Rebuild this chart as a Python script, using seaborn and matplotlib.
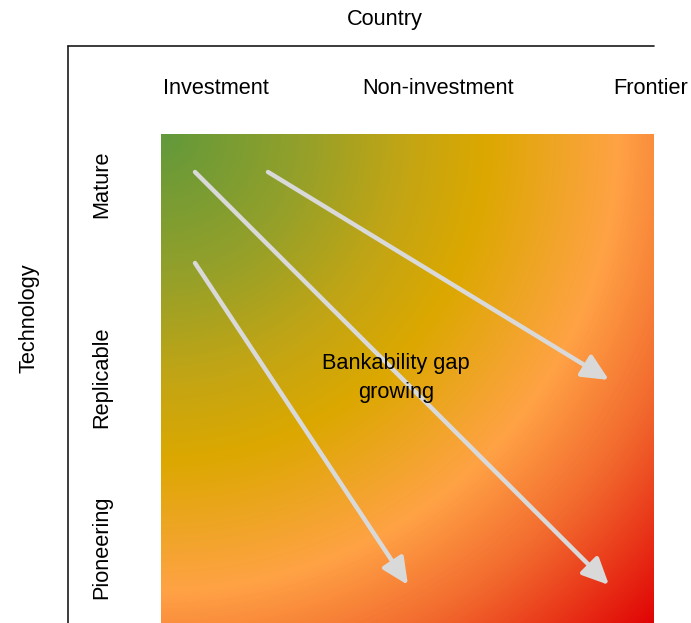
import numpy as np
import matplotlib
matplotlib.use("Agg")
import matplotlib.pyplot as plt
from matplotlib.patches import FancyArrowPatch
from matplotlib.colors import LinearSegmentedColormap
import seaborn as sns

sns.set_theme(style="white")
plt.rcParams['font.family'] = ['Liberation Sans', 'DejaVu Sans']

# ---- data ----
x_title = "Country"
y_title = "Technology"
columns = ["Investment", "Non-investment", "Frontier"]
col_x = [216, 438.5, 650.5]
rows = ["Mature", "Replicable", "Pioneering"]
row_y = [184, 377, 547]
center_label = "Bankability gap\ngrowing"

# arrows (start x, start y) -> (end x, end y), in the diagram's pixel grid
arrow_x0 = [268, 195, 195]
arrow_y0 = [172, 172, 263]
arrow_x1 = [609, 609, 408]
arrow_y1 = [380, 585, 585]

# gradient colour stops (relative distance from top-left corner)
grad_pos = [0.0, 0.2, 0.35, 0.47, 0.66, 0.8, 1.0]
grad_col = ["#62993b", "#93a02a", "#c2a515", "#dca800", "#ffa245", "#f26a2e", "#e00505"]

W, H = 691, 623
fig = plt.figure(figsize=(W / 100, H / 100), dpi=100)
ax = fig.add_axes([0, 0, 1, 1])
ax.set_xlim(0, W)
ax.set_ylim(H, 0)
ax.axis("off")

# gradient square
sq_x0, sq_x1, sq_y0, sq_y1 = 161, 654, 134, 623
nx, ny = 494, 489
xx, yy = np.meshgrid(np.linspace(sq_x0, sq_x1, nx), np.linspace(sq_y0, sq_y1, ny))
d = np.hypot(xx - sq_x0, yy - sq_y0)
d = d / np.hypot(sq_x1 - sq_x0, sq_y1 - sq_y0)
cmap = LinearSegmentedColormap.from_list("grad", list(zip(grad_pos, grad_col)))
ax.imshow(d, cmap=cmap, vmin=0, vmax=1, extent=[sq_x0, sq_x1, sq_y1, sq_y0],
          interpolation="bilinear", aspect="auto", zorder=1)

# frame lines
ax.plot([68, 654], [46, 46], color="#1a1a1a", lw=1.2, zorder=2)
ax.plot([68, 68], [46, 623], color="#1a1a1a", lw=1.2, zorder=2)

fs = 15.7
ax.text(385, 20, x_title, ha="center", va="center", fontsize=fs, color="black")
ax.text(29, 318, y_title, ha="center", va="center", rotation=90, fontsize=fs, color="black")
for lab, x in zip(columns, col_x):
    ax.text(x, 88, lab, ha="center", va="center", fontsize=fs, color="black")
for lab, y in zip(rows, row_y):
    ax.text(102, y, lab, ha="center", va="center", rotation=90, fontsize=fs, color="black")

# arrows
for x0, y0, x1, y1 in zip(arrow_x0, arrow_y0, arrow_x1, arrow_y1):
    arr = FancyArrowPatch((x0, y0), (x1, y1),
                          arrowstyle="-|>,head_length=1.6,head_width=0.75",
                          mutation_scale=10, color="#d9d9d9", lw=3.2,
                          shrinkA=0, shrinkB=0, zorder=3)
    ax.add_patch(arr)

ax.text(396, 378, center_label, ha="center", va="center", fontsize=fs,
        color="black", linespacing=1.45, zorder=4)

fig.savefig("out.png", dpi=100)
